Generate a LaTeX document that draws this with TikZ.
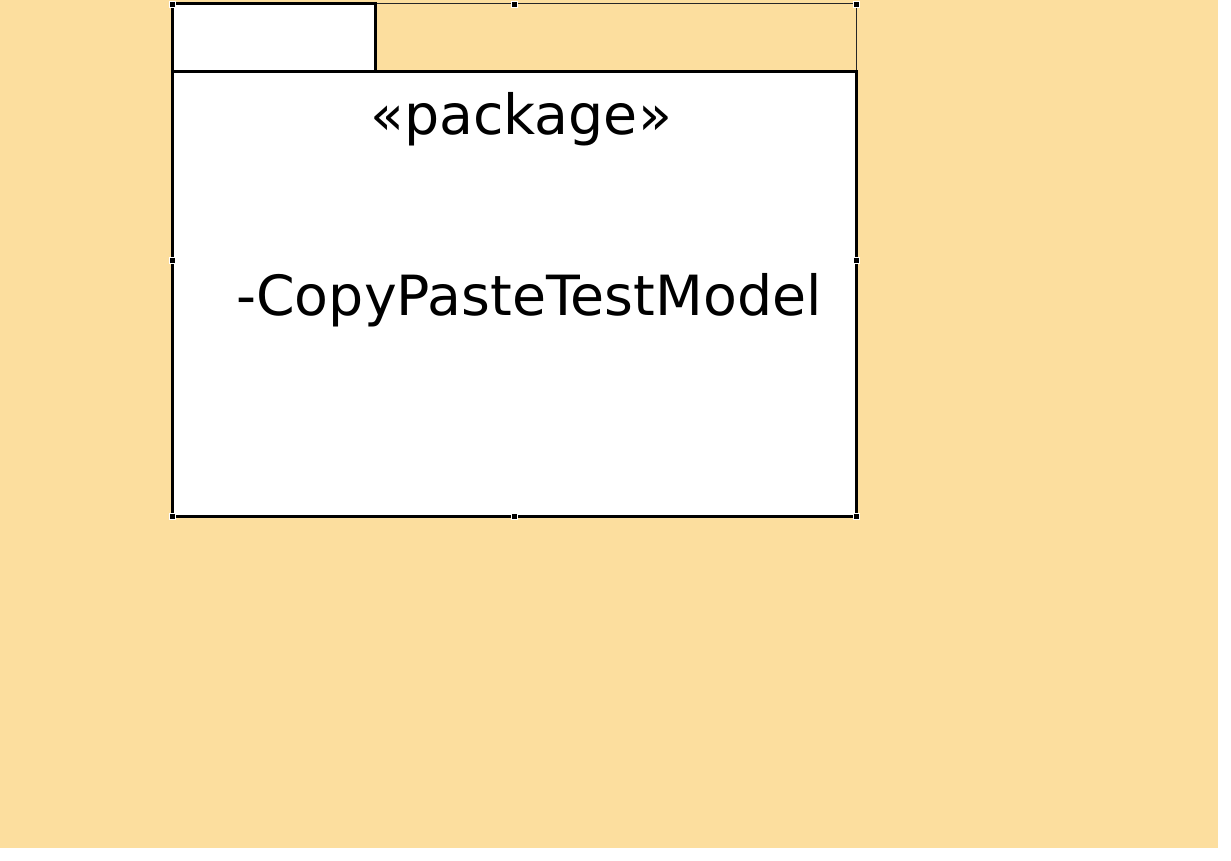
\documentclass[tikz,border=0pt]{standalone}
\usepackage{fontspec}
\setmainfont{DejaVu Sans}
\begin{document}
\begin{tikzpicture}[x=1pt,y=-1pt,
  pkgbox/.style={draw=black,fill=white,line width=3pt},
  selline/.style={draw=black!85,line width=1pt},
  handle/.style={draw=white,fill=black,line width=0.6pt,minimum size=6pt,inner sep=0pt,outer sep=0pt,rectangle},
  pkgtext/.style={font=\fontsize{55.4}{60}\selectfont,anchor=base,inner sep=0pt}]
\useasboundingbox (0,0) rectangle (1231,861);
\fill[white] (0,0) rectangle (1231,861);
\fill[fill={rgb,255:red,252;green,222;blue,158}] (0,0) rectangle (1218,848);
% selection outline
\draw[selline] (172,4) -- (856,4) -- (856,72);
% tab
\draw[pkgbox] (172,4) rectangle (375,72);
% body
\draw[pkgbox] (172,72) rectangle (856,516);
\node[pkgtext] (stereo) at (521,135) {«package»};
\node[pkgtext] (name) at (529,315) {-CopyPasteTestModel};
% handles
\foreach \p/\n in {{172,4}/h1,{514,4}/h2,{856,4}/h3,{856,260}/h4,{856,516}/h5,{514,516}/h6,{172,516}/h7,{172,260}/h8}
  \node[handle] (\n) at (\p) {};
\end{tikzpicture}
\end{document}
